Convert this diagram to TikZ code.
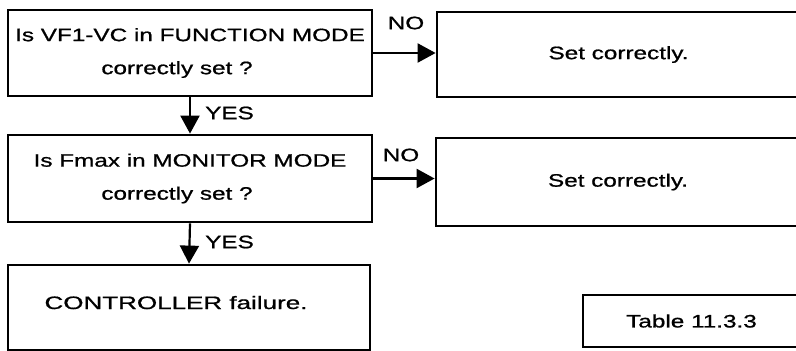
\documentclass[tikz,border=0pt]{standalone}
\usepackage{fontspec}
\setmainfont{Liberation Sans}[FakeStretch=1.35,FakeBold=0.9]
\usetikzlibrary{arrows.meta}
\newcommand{\leftnudge}[1]{\hbox{\kern-26pt #1}}
\begin{document}
\begin{tikzpicture}[x=1pt,y=-1pt,
  box/.style={draw, line width=2.8pt, rectangle, inner sep=0pt, align=center,
    font=\fontsize{18}{33}\selectfont},
  flow/.style={line width=2.2pt, -{Triangle[length=18pt,width=19pt]}},
  tag/.style={font=\fontsize{18}{20}\selectfont, inner sep=0pt}]
\useasboundingbox (0,0) rectangle (796,351);
% decision boxes on the left
\node[box, minimum width=364pt, minimum height=86pt] (q1) at (190,53)
  {Is VF1-VC in FUNCTION MODE\\\leftnudge{correctly set ?}};
\node[box, minimum width=364pt, minimum height=87pt] (q2) at (190,178.5)
  {Is Fmax in MONITOR MODE\\\leftnudge{correctly set ?}};
\node[box, minimum width=362pt, minimum height=85pt] (r3) at (189,307.5)
  {\hspace*{-26pt}\raisebox{10pt}{\scalebox{1.07}[1]{CONTROLLER failure.}}};
% action boxes on the right (running off the page edge)
\node[box, minimum width=373pt, minimum height=85pt] (a1) at (623.5,54.5)
  {\hspace*{-10pt}Set correctly.};
\node[box, minimum width=374pt, minimum height=88pt] (a2) at (623,182)
  {\hspace*{-10pt}Set correctly.};
\node[box, minimum width=227pt, minimum height=52pt] (tb) at (696.5,321)
  {\hspace*{-10pt}Table 11.3.3};
% connectors
\draw[flow] (q1.south) -- (q2.north);
\draw[flow] (q2.south) -- (r3.north);
\draw[flow] (q1.east) -- (a1.west |- q1.east);
\draw[flow] (q2.east) -- (a2.west |- q2.east);
% branch labels
\node[tag, anchor=west] (y1) at (205,113) {YES};
\node[tag, anchor=west] (y2) at (205,242) {YES};
\node[tag] (n1) at (406,23) {NO};
\node[tag] (n2) at (401,155) {NO};
\end{tikzpicture}
\end{document}
